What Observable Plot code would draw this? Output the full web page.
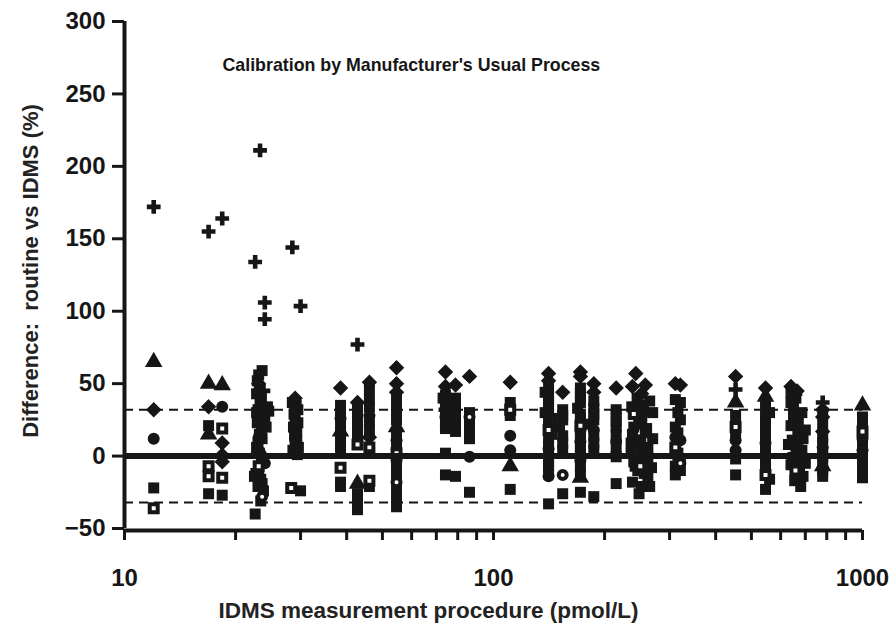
<!DOCTYPE html>
<html><head><meta charset="utf-8">
<script src="https://cdn.jsdelivr.net/npm/d3@7"></script>
<script src="https://cdn.jsdelivr.net/npm/@observablehq/plot@0.6"></script>
<style>body{margin:0;background:#fff}#chart{width:896px;height:630px}</style>
</head><body><div id="chart"></div>
<script>
const title = "Calibration by Manufacturer's Usual Process";
const xLabel = "IDMS measurement procedure (pmol/L)";
const yLabel = "Difference:  routine vs IDMS (%)";
const yTicks = [-50, 0, 50, 100, 150, 200, 250, 300];
const xMajorTicks = [10, 100, 1000];
const xMinorTicks = [20, 30, 40, 50, 60, 70, 80, 90, 200, 300, 400, 500, 600, 700, 800, 900];
const limits = [-32, 32];
const zeroLine = [0];

// [IDMS value (pmol/L), difference (%)] per routine method symbol
const crossPts = [[12,172],[16.9,155],[18.4,164],[23.3,211],[22.6,134],[24,106],[24,94.5],[28.5,144],[30,103.5],[42.8,77],[453,46],[780,37],[23.8,45],[74.1,32],[250,25],[658,43]];
const diamondPts = [[12,32],[16.9,34],[18.4,9],[18.4,0.7],[18.4,-4],[23.1,50],[23.6,27],[29,40],[38.5,47],[42.8,37],[46.1,51],[54.6,61],[54.6,50],[54.6,44],[74.1,58],[74.1,48],[78.9,49],[86.1,55],[111,51],[141,57],[141,52],[154,44],[172,58],[172,55],[187,50],[187,44],[215,47],[243,57],[238,48],[258,49],[252,43],[311,50],[321,49],[453,55],[546,47],[640,48],[665,45],[780,32],[780,27],[780,17],[46.1,13]];
const circlePts = [[12,12],[18.4,34],[23.1,13],[29,12],[38.5,26],[46.1,28],[54.6,11],[74.1,27],[86.1,-0.5],[111,14],[111,4],[141,5],[172,10],[172,-3],[187,18],[215,10],[250,11],[311,13],[321,11],[453,11],[453,4],[546,9],[658,21],[670,6],[780,6],[1000,12],[1000,4],[24,-5],[54.6,-3],[141,-14],[29,32]];
const trianglePts = [[12,65],[16.9,50],[18.4,49],[16.9,15],[42.8,-19],[111,-7],[172,-15],[453,37],[546,41],[1000,35],[23.1,5],[38.5,17],[54.6,20],[250,-3],[780,-7]];
const squarePts = [[12,-22],[16.9,21],[16.9,-26],[18.4,-27],
  [23.6,59],[23.1,56],[22.8,43],[23.3,37],[23.0,32],[23.4,27],[22.9,23],[23.5,18],[23.0,9],[23.2,2],[22.7,-12],[23.4,-16],[23.0,-21],[22.6,-40],[23.8,-24],[22.5,-14],[23.6,12],[22.8,30],[24.4,34],[24.6,31],
  [23.2,47],[22.9,52],[23.5,40],[23.2,15],[22.8,6],[23.5,-3],[23.1,-9],[23.6,-19],[23.4,-31],[24.2,20],[24.0,24],
  [28.5,37],[29.5,32],[29,26],[28.7,20],[29.3,17],[29,8],[28.6,4],[29.4,1],[30,-24],
  [29.2,35],[28.8,29],[29.5,23],[28.9,14],[29.3,10],[29.6,6],
  [38.5,35],[38.5,30],[38.5,21],[38.5,12],[38.5,8],[38.5,3],[38.5,-18],[38.5,-21],[38.5,16],
  [42.8,32],[42.8,27],[42.8,21],[42.8,14],[42.8,-26],[42.8,-33],[42.8,-37],
  [46.1,46],[46.1,39],[46.1,34],[46.1,23],[46.1,18],[46.1,-21],
  [54.6,40],[54.6,25],[54.6,16],[54.6,6],[54.6,-6],[54.6,-23],[54.6,-29],[54.6,-35],[54.6,-1],[54.6,35],[54.6,30],[54.6,-10],[54.6,-14],
  [74.1,42],[74.1,37],[74.1,23],[74.1,19],[74.1,2],[74.1,-13],[73,40],[74.1,34],[74.1,30],[75,25],
  [78.9,40],[78.9,34],[78.9,27],[78.9,20],[78.9,17],[78.9,-14],
  [86.1,21],[86.1,16],[86.1,12],[86.1,-25],[86.1,30],[86.1,25],[86.1,18],
  [111,37],[111,28],[111,-23],
  [141,41],[141,34],[141,29],[141,24],[141,11],[141,-0.5],[141,-7],[141,-33],[138,44],[144,15],
  [141,47],[141,38],[141,20],[141,8],[141,2],[141,-4],[141,-10],[138,30],[144,26],
  [154,32],[154,25],[154,9],[154,-26],[151,20],[154,28],[154,14],[154,4],
  [172,43],[172,37],[172,29],[172,16],[172,4],[172,-12],[172,-25],[169,33],
  [172,47],[172,40],[172,26],[172,20],[172,13],[172,7],[172,0],[172,-7],
  [187,29],[187,9],[187,-28],[184,22],[187,38],[187,33],[187,25],[187,14],[187,4],
  [215,32],[215,20],[215,-0.5],[215,-19],[215,28],[215,24],[215,15],[215,5],
  [237,34],[245,29],[252,25],[240,20],[258,16],[244,11],[262,6],[236,2],[250,-3],[256,-12],[242,-7],[265,-21],[248,-26],[270,30],[265,38],[238,15],[255,2],[268,-8],[270,12],
  [245,40],[250,35],[255,31],[248,22],[260,19],[236,9],[252,5],[262,-1],[240,-4],[258,-5],[246,-10],[262,-15],[238,-18],[252,-21],
  [311,39],[311,20],[311,-7],[311,-13],
  [321,37],[321,25],[321,-3],[321,-10],[316,30],[316,16],[316,2],[316,-4],
  [453,-13],[453,28],[453,15],[453,-2],
  [546,37],[546,21],[546,16],[546,2],[546,-3],[546,-23],[560,30],[546,30],[546,25],[546,12],[546,6],[546,-8],[560,-16],
  [640,37],[650,28],[668,16],[645,11],[660,2],[672,-3],[655,-17],[680,-21],[685,30],[690,12],[700,-5],[630,8],
  [640,44],[660,40],[650,33],[670,24],[640,21],[665,8],[648,-1],[675,-8],[660,-12],[690,-14],[640,-6],[685,4],[700,18],
  [780,13],[780,-0.5],[780,-14],[780,30],[780,22],[780,9],[780,3],[780,-4],[780,-10],
  [1000,20],[1000,-3],[1000,-10],[1000,-15],[1000,27],[1000,8],[1000,0],[1000,-7]];
const openSquarePts = [[12,-36],[16.9,-7],[16.9,-14],[18.4,19],[18.4,-15],[23.1,-7],[28.3,-22],[38.5,-8],[42.8,8],[46.1,6],[46.1,-17],[111,32],[141,18],[172,21],[453,20],[546,-13],[1000,17],[250,-7],[311,6],[240,29],[658,-10],[54.6,2]];
const openCirclePts = [[23.6,-28],[54.6,-18],[154,-13],[321,-5],[86.1,27]];

const ink = "#161616";
const font = "'Liberation Sans', Arial, sans-serif";
const px = d => d[0], py = d => d[1];

const chart = Plot.plot({
  width: 896, height: 630,
  marginLeft: 124, marginRight: 34, marginTop: 21, marginBottom: 102,
  x: {type: "log", domain: [10, 1000]},
  y: {domain: [-50, 300]},
  style: {fontFamily: font, color: ink, background: "#fff", overflow: "visible"},
  marks: [
    Plot.ruleY(limits, {stroke: ink, strokeWidth: 2, strokeDasharray: "9,6"}),
    Plot.dot(squarePts, {x: px, y: py, symbol: "square", r: 6.2, fill: ink}),
    Plot.dot(trianglePts, {x: px, y: py, symbol: "triangle", r: 6.5, fill: ink}),
    Plot.dot(circlePts, {x: px, y: py, symbol: "circle", r: 6, fill: ink}),
    Plot.dot(diamondPts, {x: px, y: py, symbol: "diamond2", r: 6, fill: ink, stroke: ink, strokeWidth: 1.5}),
    Plot.dot(crossPts, {x: px, y: py, symbol: "cross", r: 5.8, fill: ink}),
    Plot.dot(openSquarePts, {x: px, y: py, symbol: "square", r: 4.5, fill: "white", stroke: ink, strokeWidth: 4}),
    Plot.dot(openCirclePts, {x: px, y: py, symbol: "circle", r: 4, fill: "white", stroke: ink, strokeWidth: 4}),
    Plot.ruleY(zeroLine, {stroke: ink, strokeWidth: 6}),
    Plot.ruleX([10], {stroke: ink, strokeWidth: 4}),
    Plot.ruleY([-50], {stroke: ink, strokeWidth: 4, dy: 2}),
    Plot.axisY({ticks: yTicks, tickSize: 12, tickPadding: 7, strokeWidth: 3, fontSize: 24, fontWeight: "bold", label: null}),
    Plot.axisX({ticks: xMinorTicks.concat(xMajorTicks), tickSize: 10, tickFormat: () => "", strokeWidth: 3, label: null, dy: 2}),
    Plot.axisX({ticks: xMajorTicks, tickSize: 0, tickPadding: 40, tickFormat: d => String(d), fontSize: 24, fontWeight: "bold", label: null}),
    Plot.text([title], {text: d => d, frameAnchor: "top-left", dx: 98, dy: 44, textAnchor: "start", lineAnchor: "middle", fontSize: 17.8, fontWeight: "bold", fill: ink}),
    Plot.text([yLabel], {text: d => d, frameAnchor: "left", rotate: -90, dx: -94, dy: -4, textAnchor: "middle", fontSize: 22, fontWeight: "bold", fill: "#222"}),
    Plot.text([xLabel], {text: d => d, frameAnchor: "bottom", dx: -65, dy: 89, textAnchor: "middle", fontSize: 22.5, fontWeight: "bold", fill: "#222"})
  ]
});
document.getElementById("chart").appendChild(chart);
</script>
</body></html>
